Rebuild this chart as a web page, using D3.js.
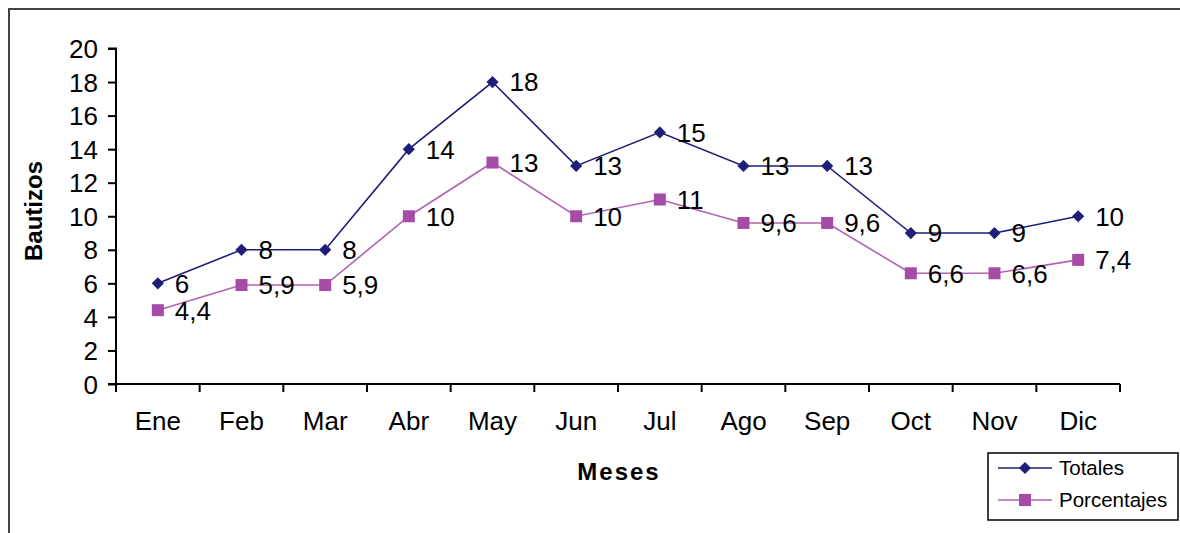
<!DOCTYPE html>
<html><head><meta charset="utf-8">
<script src="https://cdn.jsdelivr.net/npm/d3@7"></script>
<style>
html,body{margin:0;padding:0;background:#fff;}
text{font-family:"Liberation Sans",Arial,sans-serif;}
</style></head>
<body><svg id="c" width="1180" height="533"></svg>
<script>
const months = ["Ene","Feb","Mar","Abr","May","Jun","Jul","Ago","Sep","Oct","Nov","Dic"];
const totales = [6,8,8,14,18,13,15,13,13,9,9,10];
const porcentajes = [4.4,5.9,5.9,10,13.2,10,11,9.6,9.6,6.6,6.6,7.4];
const porcentajesLabels = ["4,4","5,9","5,9","10","13","10","11","9,6","9,6","6,6","6,6","7,4"];
const yTicks = [0,2,4,6,8,10,12,14,16,18,20];

const svg = d3.select("#c");
const navy = "#1f1f7a", magLine = "#b262b2", magMark = "#a64ca6";

// frame
svg.append("path").attr("d","M9,533 V9 H1180").attr("fill","none").attr("stroke","#444").attr("stroke-width",2);

const x = d3.scaleBand().domain(months).range([116,1120]);
const y = d3.scaleLinear().domain([0,20]).range([384,48.5]);

const yAxis = svg.append("g").attr("transform","translate(116,0)")
  .call(d3.axisLeft(y).tickValues(yTicks).tickSize(8).tickPadding(10).tickFormat(d3.format("d")));
yAxis.select(".domain").attr("d","M-8,48.5H0V384H-8").attr("stroke","#000").attr("stroke-width",2);
yAxis.selectAll(".tick line").attr("stroke","#000").attr("stroke-width",2);
yAxis.selectAll(".tick text").attr("font-size",26).attr("fill","#000").attr("font-family","Liberation Sans, Arial, sans-serif").attr("dy","0.35em");

const xAxis = svg.append("g").attr("transform","translate(0,384)")
  .call(d3.axisBottom(x).tickSize(0).tickPadding(28));
xAxis.select(".domain").attr("d","M116,0H1120").attr("stroke","#000").attr("stroke-width",2);
xAxis.selectAll(".tick text").attr("font-size",26).attr("fill","#000").attr("font-family","Liberation Sans, Arial, sans-serif");
const bounds = months.map(m=>x(m)).concat([x.range()[1]]);
xAxis.selectAll(".bt").data(bounds).enter().append("line")
  .attr("x1",d=>d).attr("x2",d=>d).attr("y1",0).attr("y2",8).attr("stroke","#000").attr("stroke-width",2);

const cx = m => x(m)+x.bandwidth()/2;
const line = d3.line().x((d,i)=>cx(months[i])).y(d=>y(d));

svg.append("path").datum(totales).attr("d",line).attr("fill","none").attr("stroke",navy).attr("stroke-width",1.6);
svg.append("path").datum(porcentajes).attr("d",line).attr("fill","none").attr("stroke",magLine).attr("stroke-width",1.6);

const diamond = d3.symbol().type(d3.symbolDiamond2).size(95);
svg.selectAll(".dm").data(totales).enter().append("path")
  .attr("d",diamond).attr("transform",(d,i)=>`translate(${cx(months[i])},${y(d)})`)
  .attr("fill",navy);
svg.selectAll(".sq").data(porcentajes).enter().append("rect")
  .attr("x",(d,i)=>cx(months[i])-6).attr("y",d=>y(d)-6).attr("width",12).attr("height",12).attr("fill",magMark);

svg.selectAll(".lt").data(totales).enter().append("text")
  .attr("x",(d,i)=>cx(months[i])+17).attr("y",d=>y(d)).attr("dy","0.36em")
  .attr("font-size",26).attr("fill","#000").text(d=>d);
svg.selectAll(".lp").data(porcentajes).enter().append("text")
  .attr("x",(d,i)=>cx(months[i])+17).attr("y",d=>y(d)).attr("dy","0.36em")
  .attr("font-size",26).attr("fill","#000").text((d,i)=>porcentajesLabels[i]);

// axis titles
svg.append("text").attr("transform","translate(42,211) rotate(-90)").attr("text-anchor","middle")
  .attr("font-size",24).attr("font-weight","bold").text("Bautizos");
svg.append("text").attr("x",619).attr("y",480).attr("text-anchor","middle")
  .attr("font-size",24).attr("font-weight","bold").attr("letter-spacing","2px").text("Meses");

// legend
const lg = svg.append("g");
lg.append("rect").attr("x",988).attr("y",453).attr("width",190).attr("height",67).attr("fill","#fff").attr("stroke","#000").attr("stroke-width",1.5);
const items = [{n:"Totales",c:navy,m:"d",yy:468},{n:"Porcentajes",c:magLine,m:"s",yy:500}];
items.forEach(it=>{
  lg.append("line").attr("x1",998).attr("x2",1052).attr("y1",it.yy).attr("y2",it.yy).attr("stroke",it.c).attr("stroke-width",1.6);
  if(it.m==="d") lg.append("path").attr("d",diamond).attr("transform",`translate(1025,${it.yy})`).attr("fill",navy);
  else lg.append("rect").attr("x",1019).attr("y",it.yy-6).attr("width",12).attr("height",12).attr("fill",magMark);
  lg.append("text").attr("x",1059).attr("y",it.yy).attr("dy","0.36em").attr("font-size",20.5).attr("fill","#000").text(it.n);
});
</script></body></html>
